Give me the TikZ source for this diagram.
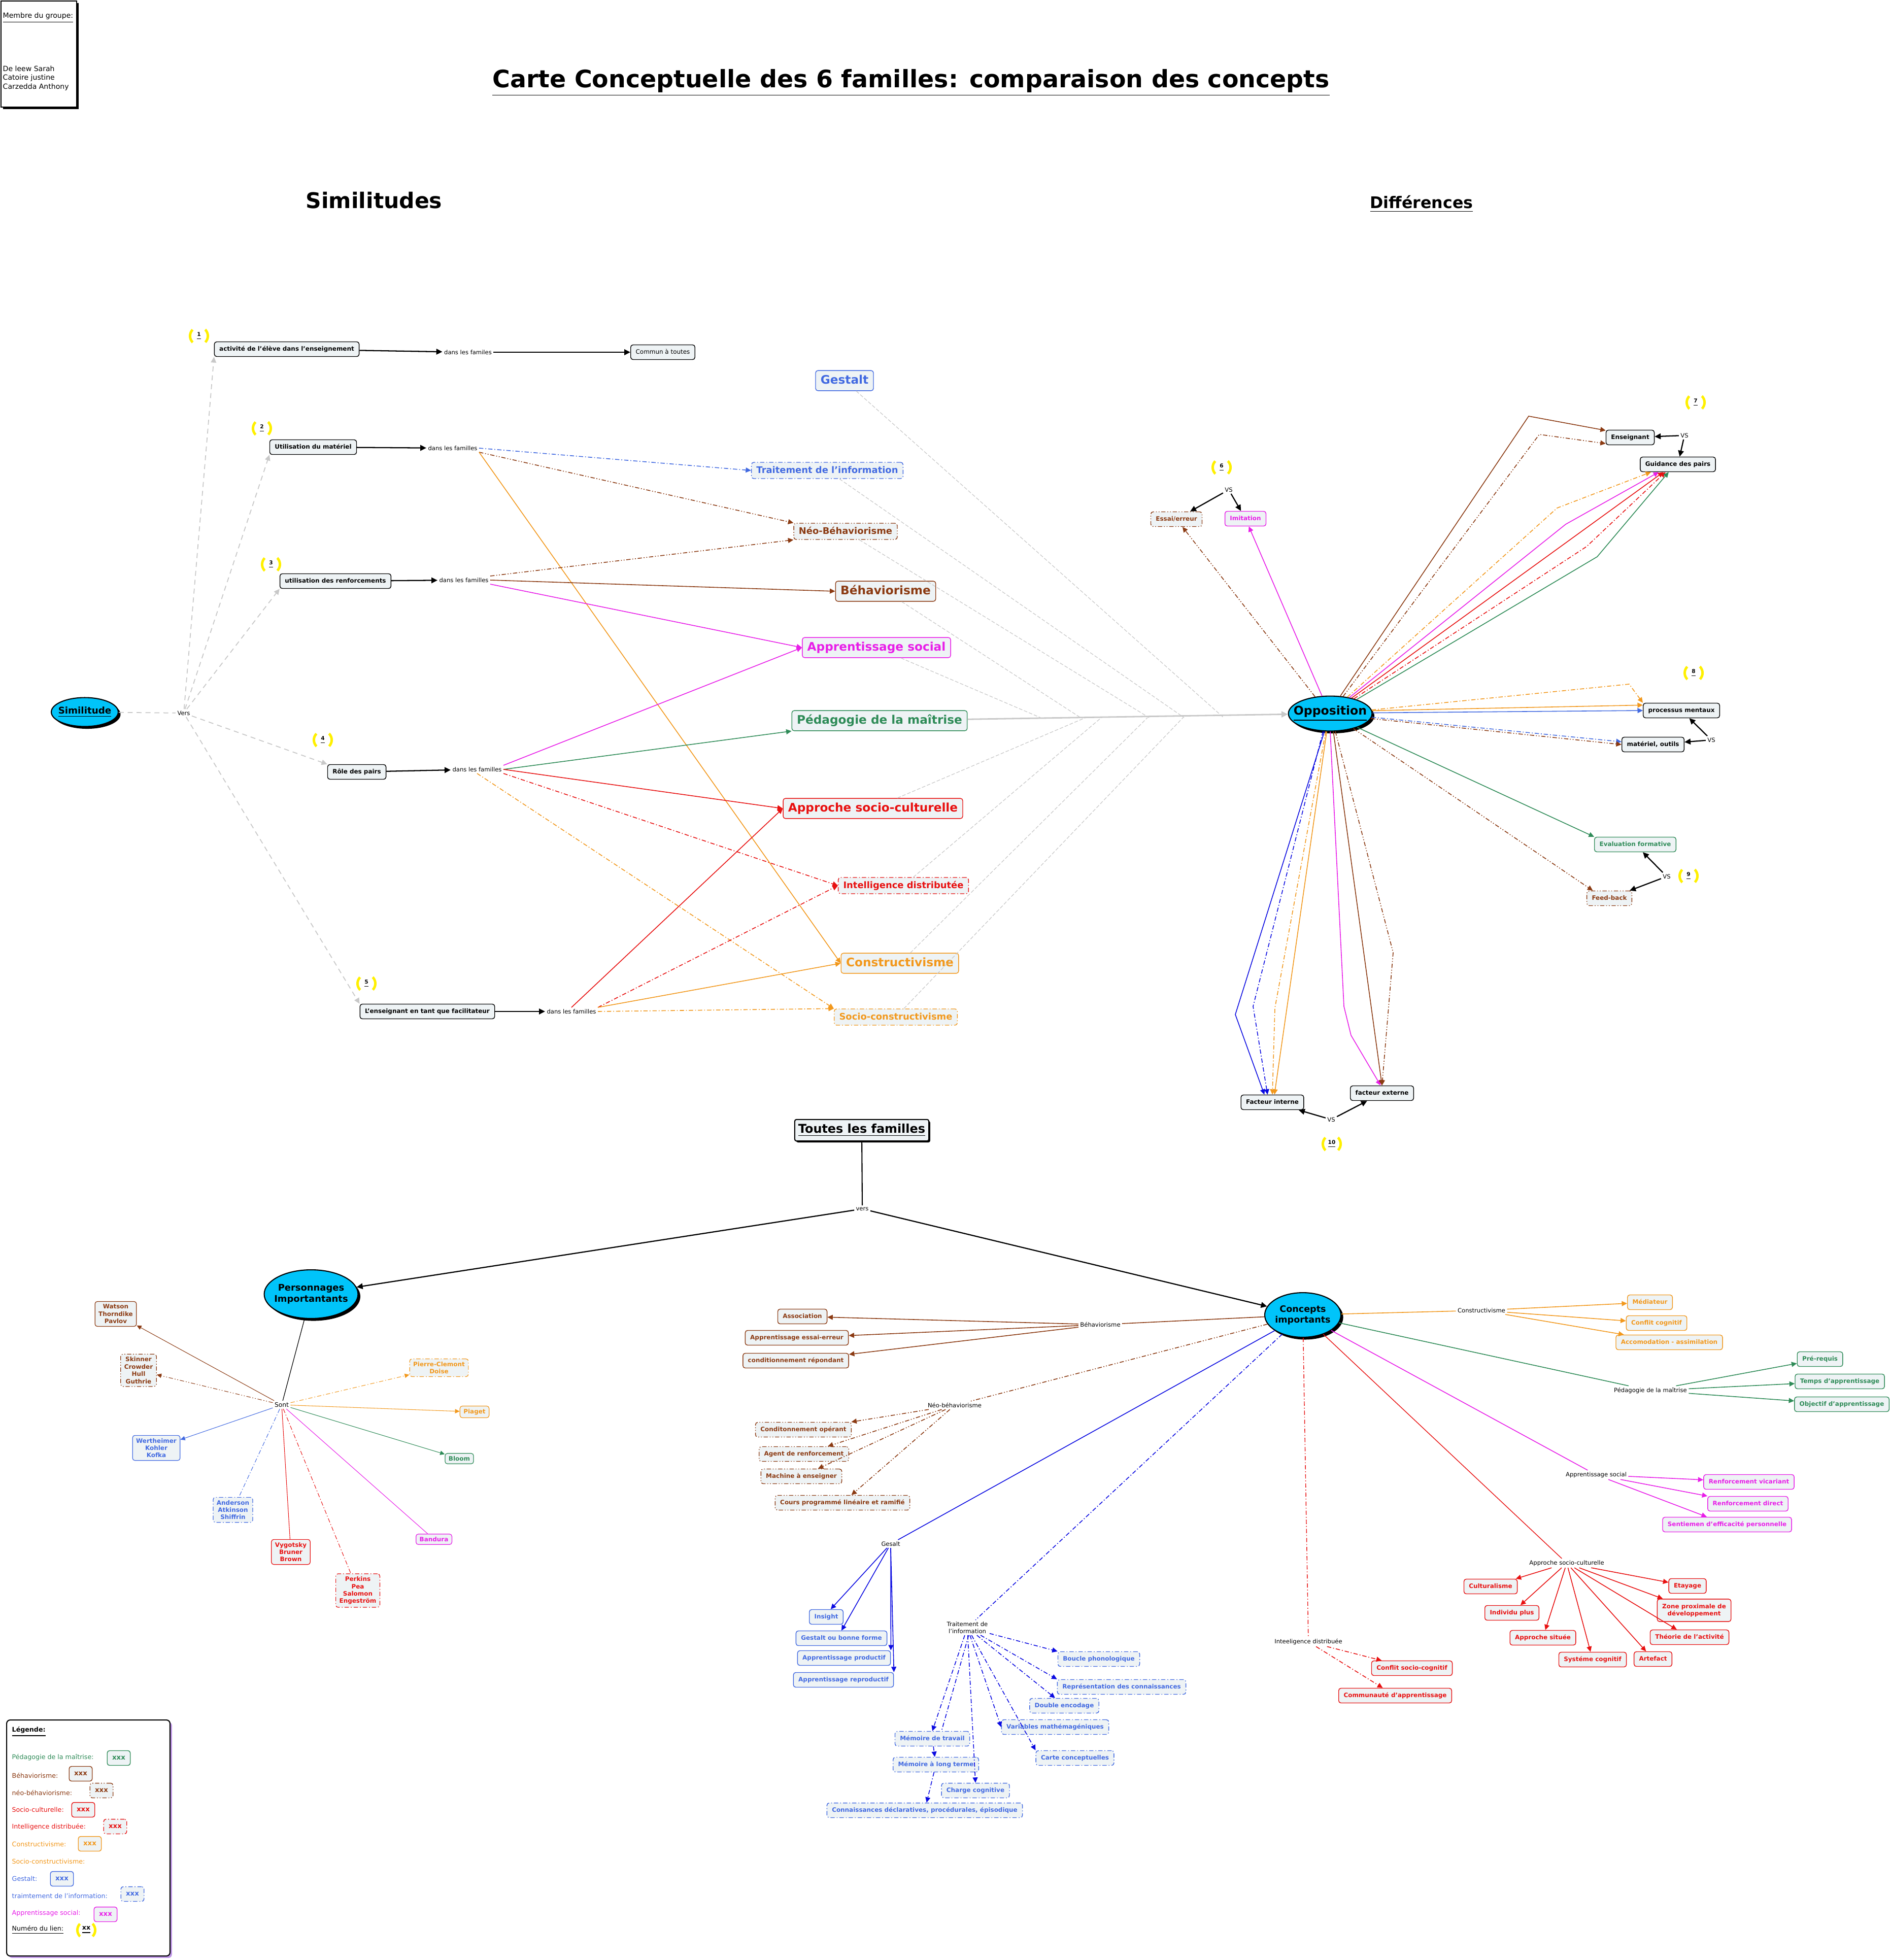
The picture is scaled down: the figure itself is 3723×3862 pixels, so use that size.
\documentclass[tikz,border=0pt]{standalone}
\usepackage{fontspec}
\setmainfont{DejaVu Sans}
\usetikzlibrary{arrows.meta,shapes.geometric,shadows}
\definecolor{cmgreen}{RGB}{46,139,87}
\definecolor{cmbrown}{RGB}{139,58,18}
\definecolor{cmred}{RGB}{232,16,16}
\definecolor{cmorange}{RGB}{242,152,28}
\definecolor{cmblue}{RGB}{65,105,225}
\definecolor{cmdeep}{RGB}{10,10,225}
\definecolor{cmmagenta}{RGB}{232,30,232}
\definecolor{cmcyan}{RGB}{0,196,250}
\definecolor{cmfill}{RGB}{238,243,245}
\definecolor{cmgray}{RGB}{200,200,200}
\definecolor{cmyellow}{RGB}{255,240,0}
\definecolor{cmpurple}{RGB}{190,150,230}

\tikzset{
  ddot/.style={dash pattern=on 2.4pt off 1.1pt on 0.5pt off 1.1pt},
  dddot/.style={dash pattern=on 2.4pt off 1pt on 0.5pt off 1pt on 0.5pt off 1pt},
  vertB/.style={draw=cmgreen, text=cmgreen},
  brunB/.style={draw=cmbrown, text=cmbrown},
  brunP/.style={brunB, dddot},
  rougeB/.style={draw=cmred, text=cmred},
  rougeP/.style={rougeB, ddot},
  orangeB/.style={draw=cmorange, text=cmorange},
  orangeP/.style={orangeB, ddot},
  bleuB/.style={draw=cmblue, text=cmblue},
  bleuP/.style={bleuB, ddot},
  magB/.style={draw=cmmagenta, text=cmmagenta},
  boite/.style={draw, rounded corners=1.3pt, fill=cmfill, line width=0.4pt, inner xsep=2.8pt, inner ysep=2.4pt,
    text height=2.7pt, text depth=0.75pt, font=\bfseries\fontsize{3.4}{4.1}\selectfont},
  perso/.style={draw, rounded corners=1.3pt, fill=cmfill, line width=0.35pt, inner xsep=2pt, inner ysep=1.6pt,
    align=center, font=\bfseries\fontsize{3.4}{4.1}\selectfont},
  famille/.style={boite, text height=5.1pt, text depth=1.4pt, font=\bfseries\fontsize{6.6}{8}\selectfont},
  petitefam/.style={boite, inner ysep=2pt, text height=4pt, text depth=1.1pt, font=\bfseries\fontsize{5.1}{6}\selectfont},
  lien/.style={inner sep=0.8pt, align=center, font=\fontsize{3.3}{4}\selectfont},
  bulle/.style={ellipse, draw, line width=0.6pt, fill=cmcyan, inner ysep=0pt, align=center,
    drop shadow={shadow xshift=1.3pt, shadow yshift=-1.3pt, fill=black, opacity=1}},
  badge/.style={circle, draw=cmyellow, line width=1.4pt, dash pattern=on 7.85pt off 7.85pt, dash phase=3.9pt,
    minimum size=10pt, inner sep=0pt, font=\bfseries\fontsize{3}{3.6}\selectfont},
  legtxt/.style={anchor=west, inner sep=0pt, font=\fontsize{3.6}{4.3}\selectfont},
  fl/.style={-{Triangle[length=3pt,width=2.8pt]}, line width=0.45pt},
  fp/.style={-{Triangle[length=2.6pt,width=2.4pt]}, line width=0.3pt},
  fln/.style={-{Triangle[length=3.4pt,width=3.2pt]}, line width=0.65pt},
  gris/.style={draw=cmgray, line width=0.5pt, dash pattern=on 2.8pt off 2.2pt},
}

\begin{document}
\begin{tikzpicture}[x=0.1mm,y=-0.1mm]
\fill[white] (0,0) rectangle (3723,3862);
\useasboundingbox (0,0) rectangle (3723,3862);

% en-tete
\node[draw, line width=0.5pt, fill=white, anchor=north west, minimum width=42.4pt, minimum height=59.5pt,
  drop shadow={shadow xshift=1.1pt, shadow yshift=-1.1pt, fill=black, opacity=1}] (membres) at (1,1) {};
\node[anchor=west, inner sep=0pt, font=\fontsize{4}{5}\selectfont] (groupe) at (5,35) {\underline{Membre du groupe:}};
\node[anchor=west, inner sep=0pt, align=left, font=\fontsize{4}{5}\selectfont] (noms) at (5,154)
  {De leew Sarah\\Catoire justine\\Carzedda Anthony};
\node[font=\bfseries\fontsize{13.5}{16}\selectfont] (titre) at (1795,163)
  {\underline{Carte Conceptuelle des 6 familles: comparaison des concepts}};
\node[font=\bfseries\fontsize{12.1}{14}\selectfont] (hSim) at (737,395) {Similitudes};
\node[font=\bfseries\fontsize{9}{11}\selectfont] (hDiff) at (2801,402) {\underline{Différences}};

% similitudes
\node[bulle, inner xsep=-1.6pt, minimum width=36.4pt, minimum height=16.2pt, font=\bfseries\fontsize{5.2}{6}\selectfont] (sim) at (167,1403) {\underline{Similitude}};
\node[lien] (vers) at (362,1405) {Vers};
\node[boite] (s1) at (565,688) {activité de l'élève dans l'enseignement};
\node[boite] (s2) at (617,881) {Utilisation du matériel};
\node[boite] (s3) at (661,1145) {utilisation des renforcements};
\node[boite] (s4) at (703,1521) {Rôle des pairs};
\node[boite] (s5) at (842,1993) {L'enseignant en tant que facilitateur};
\node[badge] (b1) at (392,662) {\underline{1}};
\node[badge] (b2) at (516,844) {\underline{2}};
\node[badge] (b3) at (534,1112) {\underline{3}};
\node[badge] (b4) at (636,1458) {\underline{4}};
\node[badge] (b5) at (722,1938) {\underline{5}};
\node[lien] (d1) at (922,694) {dans les familes};
\node[lien] (d2) at (892,883) {dans les familles};
\node[lien] (d3) at (914,1143) {dans les familles};
\node[lien] (d4) at (940,1516) {dans les familles};
\node[lien] (d5) at (1126,1993) {dans les familles};
\node[boite, font=\fontsize{3.4}{4.1}\selectfont] (commun) at (1306,694) {Commun à toutes};

\draw[gris] (sim) -- (vers);
\draw[gris, -{Triangle[length=3.2pt,width=3pt]}, cmgray] (vers) -- (s1.south west);
\draw[gris, -{Triangle[length=3.2pt,width=3pt]}, cmgray] (vers) -- (s2.south west);
\draw[gris, -{Triangle[length=3.2pt,width=3pt]}, cmgray] (vers) -- (s3.south west);
\draw[gris, -{Triangle[length=3.2pt,width=3pt]}, cmgray] (vers) -- (s4.north west);
\draw[gris, -{Triangle[length=3.2pt,width=3pt]}, cmgray] (vers) -- (s5.north west);
\draw[fln] (s1) -- (d1);
\draw[fln] (d1) -- (commun);
\draw[fln] (s2) -- (d2);
\draw[fln] (s3) -- (d3);
\draw[fln] (s4) -- (d4);
\draw[fln] (s5) -- (d5);

% familles
\node[famille, bleuB] (fG) at (1664,750) {Gestalt};
\node[petitefam, bleuP] (fTI) at (1630,927) {Traitement de l'information};
\node[petitefam, brunP] (fNB) at (1666,1047) {Néo-Béhaviorisme};
\node[famille, brunB] (fB) at (1745,1165) {Béhaviorisme};
\node[famille, magB] (fAS) at (1727,1276) {Apprentissage social};
\node[famille, vertB] (fPM) at (1733,1420) {Pédagogie de la maîtrise};
\node[famille, rougeB] (fASC) at (1720,1593) {Approche socio-culturelle};
\node[petitefam, rougeP] (fID) at (1780,1745) {Intelligence distributée};
\node[famille, orangeB] (fC) at (1773,1898) {Constructivisme};
\node[petitefam, orangeP] (fSC) at (1765,2004) {Socio-constructivisme};

\draw[fl, cmblue, ddot] (d2.east) -- (fTI.west);
\draw[fl, cmbrown, dddot] (d2.south east) -- (fNB.north west);
\draw[fl, cmorange] (d2.south east) -- (fC.west);
\draw[fl, cmbrown, dddot] (d3.north east) -- (fNB.south west);
\draw[fl, cmbrown] (d3.east) -- (fB.west);
\draw[fl, cmmagenta] (d3.south east) -- (fAS.west);
\draw[fl, cmmagenta] (d4.north east) -- (fAS.west);
\draw[fl, cmgreen] (d4.east) -- (fPM.south west);
\draw[fl, cmred] (d4.east) -- (fASC.west);
\draw[fl, cmred, ddot] (d4.south east) -- (fID.west);
\draw[fl, cmorange, ddot] (d4.south) -- (fSC.north west);
\draw[fl, cmred] (d5.north) -- (fASC.west);
\draw[fl, cmred, ddot] (d5.north east) -- (fID.west);
\draw[fl, cmorange] (d5.north east) -- (fC.west);
\draw[fl, cmorange, ddot] (d5.east) -- (fSC.north west);

% opposition
\node[bulle, inner xsep=-4pt, minimum width=46.9pt, minimum height=19.6pt, font=\bfseries\fontsize{6.7}{8}\selectfont] (Opp) at (2621,1406) {\underline{Opposition}};
\foreach \f/\x in {fG/2411, fTI/2333, fNB/2264, fB/2129, fAS/2050, fASC/2139, fID/2170, fC/2261, fSC/2331}
  \draw[cmgray, line width=0.35pt, dash pattern=on 2pt off 1pt] (\f) -- (\x,1414);
\draw[cmgray, line width=0.8pt, -{Triangle[length=3.6pt,width=3.4pt]}] (fPM) -- (Opp);

\node[badge] (b6) at (2407,921) {\underline{6}};
\node[lien] (vs6) at (2421,965) {VS};
\node[boite, brunP] (essai) at (2318,1023) {Essai/erreur};
\node[boite, magB] (imit) at (2454,1022) {Imitation};
\node[badge] (b7) at (3341,793) {\underline{7}};
\node[boite] (ens) at (3212,862) {Enseignant};
\node[lien] (vs7) at (3319,858) {VS};
\node[boite] (gp) at (3306,915) {Guidance des pairs};
\node[badge] (b8) at (3337,1326) {\underline{8}};
\node[boite] (pm) at (3313,1400) {processus mentaux};
\node[boite] (mo) at (3257,1467) {matériel, outils};
\node[lien] (vs8) at (3372,1458) {VS};
\node[boite, vertB] (ef) at (3222,1664) {Evaluation formative};
\node[lien] (vs9) at (3284,1727) {VS};
\node[badge] (b9) at (3327,1726) {\underline{9}};
\node[boite, brunP] (fb) at (3171,1770) {Feed-back};
\node[boite] (fi) at (2507,2172) {Facteur interne};
\node[boite] (fe) at (2723,2154) {facteur externe};
\node[lien] (vs10) at (2623,2206) {VS};
\node[badge] (b10) at (2624,2254) {\underline{10}};

\coordinate (kEns1) at (3012,820);
\coordinate (kEns2) at (3033,856);
\coordinate (kGp1) at (3068,1001);
\coordinate (kGp2) at (3085,1033);
\coordinate (kGp3) at (3126,1077);
\coordinate (kGp4) at (3147,1097);
\coordinate (kPm) at (3210,1348);
\coordinate (kFi1) at (2434,1999);
\coordinate (kFi2) at (2469,1983);
\coordinate (kFi3) at (2512,1986);
\coordinate (kFe1) at (2648,1983);
\coordinate (kFe2) at (2662,2040);
\coordinate (kFe3) at (2745,1877);

\draw[fl, cmbrown, dddot] (Opp.132) -- (essai);
\draw[fl, cmmagenta] (Opp.115) -- (imit);
\draw[fl, cmbrown] (Opp.60) -- (kEns1) -- (ens.164);
\draw[fl, cmbrown, dddot] (Opp.53) -- (kEns2) -- (ens.194);
\draw[fl, cmorange, ddot] (Opp.44) -- (kGp1) -- (gp.196);
\draw[fl, cmmagenta] (Opp.40) -- (kGp2) -- (gp.202);
\draw[fl, cmred] (Opp.36) -- (gp.208);
\draw[fl, cmred, ddot] (Opp.32) -- (kGp3) -- (gp.212);
\draw[fl, cmgreen] (Opp.28) -- (kGp4) -- (gp.220);
\draw[fl, cmorange, ddot] (Opp.5) -- (kPm) -- (pm.north west);
\draw[fl, cmorange] (Opp.4) -- (pm.172);
\draw[fl, cmblue] (Opp.1) -- (pm.west);
\draw[fl, cmblue, ddot] (Opp.-5) -- (mo.175);
\draw[fl, cmbrown, dddot] (Opp.-7) -- (mo.west);
\draw[fl, cmgreen] (Opp.-27) -- (ef.north west);
\draw[fl, cmbrown, dddot] (Opp.-33) -- (fb.155);
\draw[fl, cmdeep] (Opp.-108) -- (kFi1) -- (fi.136);
\draw[fl, cmdeep, ddot] (Opp.-112) -- (kFi2) -- (fi.122);
\draw[fl, cmorange, ddot] (Opp.-104) -- (kFi3) -- (fi.north);
\draw[fl, cmorange] (Opp.-101) -- (fi.75);
\draw[fl, cmmagenta] (Opp.-90) -- (kFe1) -- (kFe2) -- (fe.100);
\draw[fl, cmbrown] (Opp.-80) -- (fe.north);
\draw[fl, cmbrown, dddot] (Opp.-74) -- (kFe3) -- (fe.north);
\foreach \a/\b in {vs6/essai, vs6/imit, vs7/ens, vs7/gp, vs8/pm, vs8/mo, vs9/ef, vs9/fb, vs10/fi, vs10/fe}
  \draw[fln] (\a) -- (\b);

% toutes les familles
\node[draw, line width=0.6pt, fill=cmfill, rounded corners=1pt, inner xsep=2pt, inner ysep=2.4pt,
  font=\bfseries\fontsize{6.8}{8}\selectfont,
  drop shadow={shadow xshift=0.8pt, shadow yshift=-0.8pt, fill=black, opacity=1}] (toutes) at (1698,2227) {\underline{Toutes les familles}};
\node[lien] (vers2) at (1699,2382) {vers};
\node[bulle, inner xsep=-2.2pt, minimum width=52.6pt, minimum height=27.3pt, font=\bfseries\fontsize{5.1}{6.1}\selectfont] (pers) at (613,2550) {Personnages\\Importantants};
\node[bulle, inner xsep=-0.8pt, minimum width=42.7pt, minimum height=25pt, font=\bfseries\fontsize{5}{6.1}\selectfont] (concepts) at (2567,2591) {Concepts\\importants};
\draw[line width=0.6pt] (toutes) -- (vers2);
\draw[fln] (vers2) -- (pers);
\draw[fln] (vers2) -- (concepts);

% personnages
\node[lien, font=\fontsize{3.5}{4}\selectfont] (sont) at (555,2768) {Sont};
\node[perso, brunB] (watson) at (228,2589) {Watson\\Thorndike\\Pavlov};
\node[perso, brunP] (skinner) at (273,2700) {Skinner\\Crowder\\Hull\\Guthrie};
\node[perso, bleuB] (werth) at (308,2853) {Wertheimer\\Kohler\\Kofka};
\node[perso, bleuP] (anderson) at (459,2975) {Anderson\\Atkinson\\Shiffrin};
\node[perso, rougeB] (vygotsky) at (573,3058) {Vygotsky\\Bruner\\Brown};
\node[perso, rougeP] (perkins) at (705,3134) {Perkins\\Pea\\Salomon\\Engeström};
\node[perso, magB] (bandura) at (855,3033) {Bandura};
\node[perso, vertB] (bloom) at (905,2874) {Bloom};
\node[perso, orangeB] (piaget) at (935,2782) {Piaget};
\node[perso, orangeP] (doise) at (865,2695) {Pierre-Clemont\\Doise};
\draw[line width=0.35pt] (pers) -- (sont);
\draw[fp, cmbrown] (sont) -- (watson);
\draw[fp, cmbrown, dddot] (sont) -- (skinner);
\draw[fp, cmblue] (sont) -- (werth);
\draw[line width=0.3pt, cmblue, ddot] (sont) -- (anderson);
\draw[line width=0.3pt, cmred] (sont) -- (vygotsky);
\draw[line width=0.3pt, cmred, ddot] (sont) -- (perkins);
\draw[line width=0.3pt, cmmagenta] (sont) -- (bandura);
\draw[fp, cmgreen] (sont) -- (bloom);
\draw[fp, cmorange] (sont) -- (piaget);
\draw[fp, cmorange, ddot] (sont) -- (doise);

% concepts importants
\node[lien] (lConstr) at (2919,2582) {Constructivisme};
\node[lien] (lPed) at (3252,2740) {Pédagogie de la maîtrise};
\node[lien] (lAS) at (3145,2906) {Apprentissage social};
\node[lien] (lASC) at (3087,3080) {Approche socio-culturelle};
\node[lien] (lID) at (2578,3235) {Inteeligence distribuée};
\node[lien] (lB) at (2168,2610) {Béhaviorisme};
\node[lien] (lNB) at (1881,2769) {Néo-béhaviorisme};
\node[lien] (lG) at (1755,3042) {Gesalt};
\node[lien] (lTI) at (1906,3207) {Traitement de\\l'information};

\node[boite, orangeB] (med) at (3251,2566) {Médiateur};
\node[boite, orangeB] (conf) at (3264,2607) {Conflit cognitif};
\node[boite, orangeB] (acc) at (3289,2645) {Accomodation - assimilation};
\node[boite, vertB] (prer) at (3586,2678) {Pré-requis};
\node[boite, vertB] (temps) at (3625,2722) {Temps d'apprentissage};
\node[boite, vertB] (obj) at (3629,2767) {Objectif d'apprentissage};
\node[boite, magB] (vic) at (3446,2920) {Renforcement vicariant};
\node[boite, magB] (dir) at (3444,2963) {Renforcement direct};
\node[boite, magB] (sent) at (3403,3004) {Sentiemen d'efficacité personnelle};
\node[boite, rougeB] (cult) at (2937,3126) {Culturalisme};
\node[boite, rougeB] (indiv) at (2979,3178) {Individu plus};
\node[boite, rougeB] (situee) at (3040,3227) {Approche située};
\node[boite, rougeB] (syst) at (3138,3270) {Systéme cognitif};
\node[boite, rougeB] (artef) at (3257,3269) {Artefact};
\node[boite, rougeB] (theo) at (3329,3226) {Théorie de l'activité};
\node[perso, rougeB, inner xsep=2.8pt, inner ysep=2.6pt, line width=0.4pt] (zone) at (3338,3173) {Zone proximale de\\développement};
\node[boite, rougeB] (etayage) at (3325,3125) {Etayage};
\node[boite, rougeB] (csc) at (2782,3287) {Conflit socio-cognitif};
\node[boite, rougeB] (comm) at (2749,3341) {Communauté d'apprentissage};
\node[boite, brunB] (assoc) at (1581,2594) {Association};
\node[boite, brunB] (aee) at (1570,2636) {Apprentissage essai-erreur};
\node[boite, brunB] (crep) at (1568,2681) {conditionnement répondant};
\node[boite, brunP] (cop) at (1583,2817) {Conditonnement opérant};
\node[boite, brunP] (agent) at (1584,2865) {Agent de renforcement};
\node[boite, brunP] (mach) at (1579,2909) {Machine à enseigner};
\node[boite, brunP] (cours) at (1660,2961) {Cours programmé linéaire et ramifié};
\node[boite, bleuB] (ins) at (1628,3186) {Insight};
\node[boite, bleuB] (gbf) at (1658,3228) {Gestalt ou bonne forme};
\node[boite, bleuB] (aprod) at (1663,3267) {Apprentissage productif};
\node[boite, bleuB] (arep) at (1662,3310) {Apprentissage reproductif};
\node[boite, bleuP] (boucle) at (2165,3269) {Boucle phonologique};
\node[boite, bleuP] (repr) at (2210,3324) {Représentation des connaissances};
\node[boite, bleuP] (double) at (2097,3361) {Double encodage};
\node[boite, bleuP] (varm) at (2079,3403) {Variables mathémagéniques};
\node[boite, bleuP] (carte) at (2118,3464) {Carte conceptuelles};
\node[boite, bleuP] (mtrav) at (1837,3426) {Mémoire de travail};
\node[boite, bleuP] (mlt) at (1844,3477) {Mémoire à long terme};
\node[boite, bleuP] (charge) at (1922,3528) {Charge cognitive};
\node[boite, bleuP] (conn) at (1822,3567) {Connaissances déclaratives, procédurales, épisodique};

\draw[line width=0.45pt, cmorange] (concepts) -- (lConstr);
\foreach \n in {med, conf, acc} \draw[fl, cmorange] (lConstr) -- (\n);
\draw[line width=0.45pt, cmgreen] (concepts) -- (lPed);
\foreach \n in {prer, temps, obj} \draw[fl, cmgreen] (lPed) -- (\n);
\draw[line width=0.45pt, cmmagenta] (concepts) -- (lAS);
\foreach \n in {vic, dir, sent} \draw[fl, cmmagenta] (lAS) -- (\n);
\draw[line width=0.4pt, cmred] (concepts) -- (lASC);
\foreach \n in {cult, indiv, situee, syst, artef, theo, zone, etayage} \draw[fl, cmred] (lASC) -- (\n);
\draw[line width=0.4pt, cmred, ddot] (concepts) -- (lID);
\foreach \n in {csc, comm} \draw[fl, cmred, ddot] (lID) -- (\n);
\draw[line width=0.45pt, cmbrown] (concepts) -- (lB);
\foreach \n in {assoc, aee, crep} \draw[fl, cmbrown] (lB) -- (\n);
\draw[line width=0.45pt, cmbrown, dddot] (concepts) -- (lNB);
\foreach \n in {cop, agent, mach, cours} \draw[fl, cmbrown, dddot] (lNB) -- (\n);
\draw[line width=0.45pt, cmdeep] (concepts) -- (lG);
\draw[fl, cmdeep] (lG) -- (ins.60);
\draw[fl, cmdeep] (lG) -- (gbf.north);
\draw[fl, cmdeep] (lG.south) -- (aprod.north east);
\draw[fl, cmdeep] (lG.south) -- (arep.north east);
\draw[line width=0.45pt, cmdeep, ddot] (concepts) -- (lTI);
\draw[fl, cmdeep, ddot] (lTI) -- (boucle.north west);
\draw[fl, cmdeep, ddot] (lTI) -- (repr.north west);
\draw[fl, cmdeep, ddot] (lTI) -- (double.140);
\draw[fl, cmdeep, ddot] (lTI) -- (varm.west);
\draw[fl, cmdeep, ddot] (lTI) -- (carte.north west);
\draw[fl, cmdeep, ddot] (lTI) -- (mtrav.north);
\draw[fl, cmdeep, ddot] (lTI) -- (charge.north);
\draw[line width=0.45pt, cmdeep, ddot] (lTI.-80) -- (mtrav.40);
\draw[fl, cmdeep, ddot] (mtrav) -- (mlt);
\draw[fl, cmdeep, ddot] (mlt) -- (conn);

% legende
\node[draw, line width=0.6pt, fill=white, rounded corners=2pt, anchor=north west, minimum width=91.6pt, minimum height=132.3pt,
  drop shadow={shadow xshift=1.1pt, shadow yshift=-1.1pt, fill=cmpurple, opacity=1}] (leg) at (12,3388) {};
\node[legtxt] (lgT) at (23,3412) {\textbf{\underline{Légende:}}};
\node[legtxt, text=cmgreen] (lg1) at (23,3463) {Pédagogie de la maîtrise:};
\node[legtxt, text=cmbrown] (lg2) at (23,3498) {Béhaviorisme:};
\node[legtxt, text=cmbrown] (lg3) at (23,3532) {néo-béhaviorisme:};
\node[legtxt, text=cmred] (lg4) at (23,3566) {Socio-culturelle:};
\node[legtxt, text=cmred] (lg5) at (23,3600) {Intelligence distribuée:};
\node[legtxt, text=cmorange] (lg6) at (23,3634) {Constructivisme:};
\node[legtxt, text=cmorange] (lg7) at (23,3668) {Socio-constructivisme:};
\node[legtxt, text=cmblue] (lg8) at (23,3702) {Gestalt:};
\node[legtxt, text=cmblue] (lg9) at (23,3736) {traimtement de l'information:};
\node[legtxt, text=cmmagenta] (lg10) at (23,3770) {Apprentissage social:};
\node[legtxt] (lg11) at (23,3803) {\underline{Numéro du lien:}};
\node[boite, vertB, font=\bfseries\fontsize{3.8}{4.5}\selectfont] (x1) at (234,3464) {xxx};
\node[boite, brunB, font=\bfseries\fontsize{3.8}{4.5}\selectfont] (x2) at (159,3495) {xxx};
\node[boite, brunP, font=\bfseries\fontsize{3.8}{4.5}\selectfont] (x3) at (200,3528) {xxx};
\node[boite, rougeB, font=\bfseries\fontsize{3.8}{4.5}\selectfont] (x4) at (164,3566) {xxx};
\node[boite, rougeP, font=\bfseries\fontsize{3.8}{4.5}\selectfont] (x5) at (227,3599) {xxx};
\node[boite, orangeB, font=\bfseries\fontsize{3.8}{4.5}\selectfont] (x6) at (177,3633) {xxx};
\node[boite, bleuB, font=\bfseries\fontsize{3.8}{4.5}\selectfont] (x8) at (122,3702) {xxx};
\node[boite, bleuP, font=\bfseries\fontsize{3.8}{4.5}\selectfont] (x9) at (261,3732) {xxx};
\node[boite, magB, font=\bfseries\fontsize{3.8}{4.5}\selectfont] (x10) at (208,3772) {xxx};
\node[badge, font=\bfseries\fontsize{3.6}{4}\selectfont] (x11) at (170,3803) {\underline{xx}};
\end{tikzpicture}
\end{document}
